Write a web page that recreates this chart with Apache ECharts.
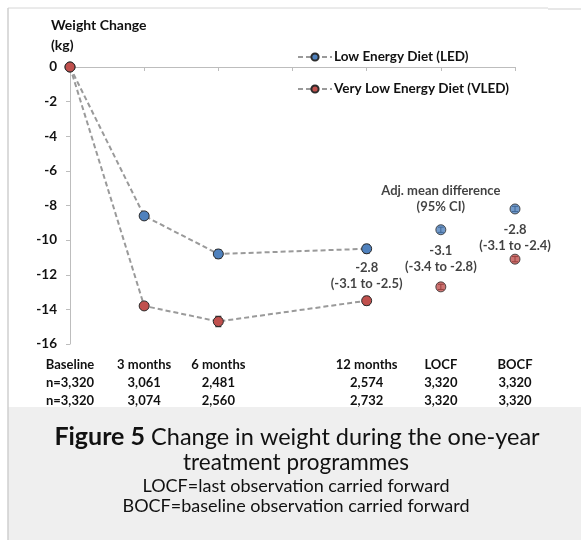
<!DOCTYPE html>
<html><head><meta charset="utf-8">
<script src="https://cdn.jsdelivr.net/npm/echarts@6/dist/echarts.min.js"></script>
<style>html,body{margin:0;padding:0;background:#fff}#c{width:581px;height:540px}</style>
</head><body><div id="c"></div>
<script>
// categories (blank slot = 9 months, not measured)
const categories = ['Baseline', '3 months', '6 months', '', '12 months', 'LOCF', 'BOCF'];
const nLED  = ['n=3,320', '3,061', '2,481', '', '2,574', '3,320', '3,320'];
const nVLED = ['n=3,320', '3,074', '2,560', '', '2,732', '3,320', '3,320'];
// mean weight change (kg); null = no observation
const ledLine  = [0, -8.6, -10.8, null, -10.5, null, null];
const vledLine = [0, -13.8, -14.7, null, -13.5, null, null];
const ledImput  = [null, null, null, null, null, -9.4, -8.2];
const vledImput = [null, null, null, null, null, -12.7, -11.1];
// approx. 95% CI half-widths
const ledErr  = [0, 0.15, 0.25, 0, 0.25, 0.15, 0.15];
const vledErr = [0, 0.15, 0.3, 0, 0.25, 0.15, 0.15];
// adjusted mean difference annotations
const annoCat  = ['12 months', 'LOCF', 'BOCF', 'LOCF'];
const annoY    = [-12.05, -11.06, -9.85, -7.63];
const annoText = ['-2.8\n(-3.1 to -2.5)', '-3.1\n(-3.4 to -2.8)', '-2.8\n(-3.1 to -2.4)', 'Adj. mean difference\n(95% CI)'];
const yTicks = { min: -16, max: 0, interval: 2 };

const FONT = 'Lato';
const LED_COLOR = '#4F81BD', VLED_COLOR = '#C0504D';

function merge(a, b) { return a.map((v, i) => v !== null ? v : b[i]); }
function errSeries(vals, errs) {
  const data = [];
  vals.forEach((v, i) => { if (v !== null && errs[i] > 0) data.push([i, v - errs[i], v + errs[i]]); });
  return {
    type: 'custom', silent: true, z: 3,
    renderItem: function (params, api) {
      const lo = api.coord([api.value(0), api.value(1)]);
      const hi = api.coord([api.value(0), api.value(2)]);
      const w = 3;
      const st = { stroke: '#000', lineWidth: 1 };
      return { type: 'group', children: [
        { type: 'line', shape: { x1: lo[0], y1: lo[1], x2: hi[0], y2: hi[1] }, style: st },
        { type: 'line', shape: { x1: lo[0] - w, y1: lo[1], x2: lo[0] + w, y2: lo[1] }, style: st },
        { type: 'line', shape: { x1: hi[0] - w, y1: hi[1], x2: hi[0] + w, y2: hi[1] }, style: st }
      ]};
    },
    data: data
  };
}

const markerStyle = c => ({ color: c, borderColor: '#2b2b2b', borderWidth: 1 });
const lineStyle = { color: '#9a9a9a', width: 2, type: [5, 3] };

const chart = echarts.init(document.getElementById('c'), null, { renderer: 'canvas' });
chart.setOption({
  backgroundColor: '#fff',
  animation: false,
  textStyle: { fontFamily: FONT },
  title: {
    text: 'Weight Change\n(kg)', left: 46, top: 10,
    textStyle: { fontFamily: FONT, fontSize: 14, fontWeight: 'bold', color: '#111', lineHeight: 20 }
  },
  legend: {
    orient: 'vertical', left: 292, top: 45, itemGap: 18, itemWidth: 34, itemHeight: 9,
    data: ['Low Energy Diet (LED)', 'Very Low Energy Diet (VLED)'],
    textStyle: { fontFamily: FONT, fontSize: 13.5, fontWeight: 'bold', color: '#111', padding: [0, 0, 0, -3] }
  },
  grid: { left: 70, right: 66, top: 67, bottom: 196, containLabel: false },
  xAxis: {
    type: 'category', data: categories, boundaryGap: false,
    axisLine: { lineStyle: { color: '#bdbdbd', width: 1 } },
    axisTick: { show: true, length: 4, lineStyle: { color: '#bdbdbd' } },
    axisLabel: {
      interval: 0, margin: 12, color: '#111', fontFamily: FONT, fontSize: 13, fontWeight: 'bold', lineHeight: 18,
      formatter: (v, i) => v + '\n' + nLED[i] + '\n' + nVLED[i]
    },
    splitLine: { show: false }
  },
  yAxis: {
    type: 'value', min: yTicks.min, max: yTicks.max, interval: yTicks.interval,
    axisLine: { show: true, lineStyle: { color: '#bdbdbd', width: 1 } },
    axisTick: { show: true, length: 4, lineStyle: { color: '#bdbdbd' } },
    axisLabel: { margin: 13, color: '#111', fontFamily: FONT, fontSize: 13.5, fontWeight: 'bold' },
    splitLine: { show: false }
  },
  series: [
    { name: 'Low Energy Diet (LED)', type: 'line', data: ledLine, connectNulls: true,
      symbol: 'circle', symbolSize: 10, lineStyle: lineStyle, itemStyle: markerStyle(LED_COLOR), z: 4 },
    { name: 'Low Energy Diet (LED)', type: 'scatter', data: ledImput,
      symbol: 'circle', symbolSize: 10, itemStyle: markerStyle(LED_COLOR), z: 4 },
    errSeries(merge(ledLine, ledImput), ledErr),
    errSeries(merge(vledLine, vledImput), vledErr),
    { name: 'Very Low Energy Diet (VLED)', type: 'line', data: vledLine, connectNulls: true,
      symbol: 'circle', symbolSize: 10, lineStyle: lineStyle, itemStyle: markerStyle(VLED_COLOR), z: 5 },
    { name: 'Very Low Energy Diet (VLED)', type: 'scatter', data: vledImput,
      symbol: 'circle', symbolSize: 10, itemStyle: markerStyle(VLED_COLOR), z: 5 },
    { type: 'scatter', silent: true, symbolSize: 0,
      data: annoCat.map((c, i) => ({ value: [c, annoY[i]], label: { formatter: annoText[i] } })),
      label: { show: true, position: 'inside', color: '#111', fontFamily: FONT, fontSize: 13, fontWeight: 'bold', lineHeight: 16, align: 'center' }
    }
  ],
  graphic: [
    { type: 'rect', silent: true, z: -1, shape: { x: 8, y: 407, width: 573, height: 133 }, style: { fill: '#efefef' } },
    { type: 'line', silent: true, shape: { x1: 8, y1: 8, x2: 548, y2: 8 }, style: { stroke: '#d6d6d6', lineWidth: 1 } },
    { type: 'line', silent: true, shape: { x1: 548, y1: 9, x2: 581, y2: 9 }, style: { stroke: '#cfcfcf', lineWidth: 1 } },
    { type: 'line', silent: true, shape: { x1: 8, y1: 8, x2: 8, y2: 540 }, style: { stroke: '#cfcfcf', lineWidth: 1.5 } },
    { type: 'text', silent: true, x: 297, y: 437, style: {
        text: '{b|Figure 5} Change in weight during the one-year', align: 'center', verticalAlign: 'middle',
        fontFamily: FONT, fontSize: 23.5, fill: '#111',
        rich: { b: { fontFamily: FONT, fontSize: 25, fontWeight: 'bold', fill: '#111' } } } },
    { type: 'text', silent: true, x: 296, y: 463, style: {
        text: 'treatment programmes', align: 'center', verticalAlign: 'middle', fontFamily: FONT, fontSize: 22.5, fill: '#111' } },
    { type: 'text', silent: true, x: 296, y: 486, style: {
        text: 'LOCF=last observation carried forward', align: 'center', verticalAlign: 'middle', fontFamily: FONT, fontSize: 18, fill: '#111' } },
    { type: 'text', silent: true, x: 296, y: 506, style: {
        text: 'BOCF=baseline observation carried forward', align: 'center', verticalAlign: 'middle', fontFamily: FONT, fontSize: 18, fill: '#111' } }
  ]
});
</script></body></html>
